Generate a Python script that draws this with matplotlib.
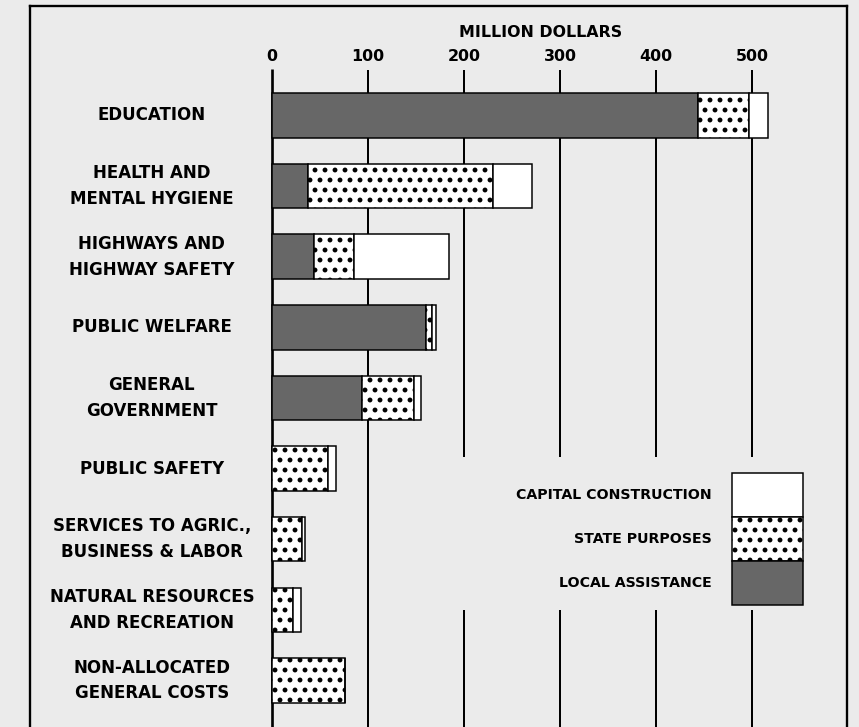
import numpy as np
import matplotlib
matplotlib.use("Agg")
import matplotlib.pyplot as plt

# data (million dollars)
categories = [
    "EDUCATION",
    "HEALTH AND\nMENTAL HYGIENE",
    "HIGHWAYS AND\nHIGHWAY SAFETY",
    "PUBLIC WELFARE",
    "GENERAL\nGOVERNMENT",
    "PUBLIC SAFETY",
    "SERVICES TO AGRIC.,\nBUSINESS & LABOR",
    "NATURAL RESOURCES\nAND RECREATION",
    "NON-ALLOCATED\nGENERAL COSTS",
]
local_assistance = [444, 38, 44, 161, 94, 0, 0, 0, 0]
state_purposes = [53, 192, 42, 6, 54, 58, 31, 22, 76]
capital_construction = [20, 41, 98, 4, 7, 9, 3, 8, 0]
tick_values = [0, 100, 200, 300, 400, 500]
legend_labels = ["CAPITAL CONSTRUCTION", "STATE PURPOSES", "LOCAL ASSISTANCE"]

BG = "#ebebeb"
DARK = "#676767"
plt.rcParams["hatch.linewidth"] = 1.7
plt.rcParams["font.family"] = "DejaVu Sans"

DPI = 120
fig = plt.figure(figsize=(859 / DPI, 727 / DPI), dpi=DPI, facecolor=BG)
ax = fig.add_axes([30 / 859, 0, (847 - 30) / 859, (727 - 6) / 727])
ax.set_facecolor(BG)
ax.set_xlim(-252, 599)
ax.set_ylim(8.66, -1.55)

y = np.arange(len(categories))
local = np.array(local_assistance)
state = np.array(state_purposes)
cap = np.array(capital_construction)

# grid lines (broken behind the legend for 200..500)
ax.vlines(0, -0.66, 8.7, color="black", lw=1.6, zorder=1)
for v in tick_values[1:]:
    if v == 100:
        ax.vlines(v, -0.65, 8.7, color="black", lw=1.2, zorder=1)
    else:
        ax.vlines(v, -0.65, 4.84, color="black", lw=1.2, zorder=1)
        ax.vlines(v, 7.0, 8.7, color="black", lw=1.2, zorder=1)

h = 0.63
ax.barh(y, local, height=h, color=DARK, edgecolor="black", lw=0.9, zorder=3)
ax.barh(y, state, left=local, height=h, color="white", hatch="..",
        edgecolor="black", lw=0.9, zorder=3)
ax.barh(y, cap, left=local + state, height=h, color="white",
        edgecolor="black", lw=0.9, zorder=3)

for yi, lab in zip(y, categories):
    ax.text(-125, yi, lab, ha="center", va="center", fontsize=10,
            fontweight="bold", linespacing=1.55, multialignment="center")

for v in tick_values:
    ax.text(v, -0.83, str(v), ha="center", va="center", fontsize=9.5,
            fontweight="bold")
ax.text(280, -1.18, "MILLION DOLLARS", ha="center", va="center",
        fontsize=9.5, fontweight="bold")

# legend: stacked swatch column with labels on the left
leg_y = 5.064 + 0.312 + 0.623 * np.arange(3)
leg_face = ["white", "white", DARK]
leg_hatch = [None, "..", None]
for yy, fc, ht, lab in zip(leg_y, leg_face, leg_hatch, legend_labels):
    ax.barh(yy, 74, left=479, height=0.623, color=fc, hatch=ht,
            edgecolor="black", lw=0.9, zorder=3)
    ax.text(458, yy, lab, ha="right", va="center", fontsize=8.5,
            fontweight="bold")

ax.set_xticks([])
ax.set_yticks([])
for s in ["left", "top", "right"]:
    ax.spines[s].set_linewidth(1.4)
ax.spines["bottom"].set_visible(False)

fig.savefig("out.png", dpi=DPI, facecolor=BG)
